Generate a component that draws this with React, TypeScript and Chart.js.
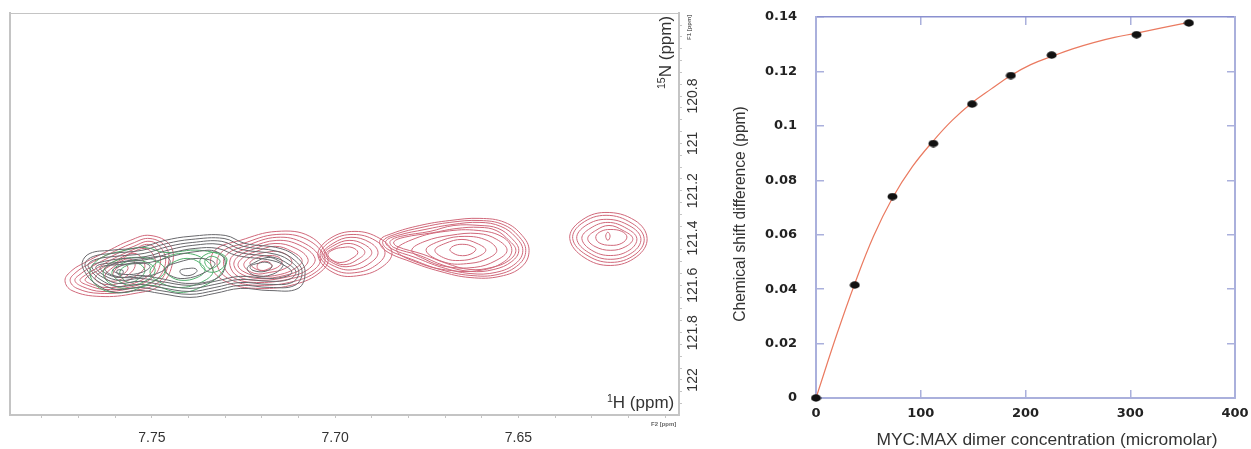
import React, { useEffect, useRef } from "react";
import { Chart, registerables } from "chart.js";

Chart.register(...registerables);

type Ring = number[][];

const RED = "#d0687a";
const GREEN = "#4fb06c";
const BLACK = "#68686c";
const AXIS_GREY = "#c4c4c4";
const AXIS_BLUE = "#aab0dc";
const TICK_TEXT = "#333333";

// 1H / 15N contour outlines, in ppm
const peakF: Ring[] = [
  [[7.6149,121.402],[7.6177,121.478],[7.6248,121.516],[7.6321,121.482],[7.636,121.402],[7.6332,121.33],[7.6264,121.292],[7.6182,121.326]],
  [[7.6157,121.402],[7.6182,121.47],[7.6248,121.503],[7.6316,121.47],[7.6352,121.402],[7.6327,121.338],[7.6261,121.304],[7.619,121.338]],
  [[7.6166,121.402],[7.6188,121.46],[7.6248,121.49],[7.6308,121.462],[7.6341,121.402],[7.6316,121.347],[7.6259,121.321],[7.6196,121.349]],
  [[7.6177,121.402],[7.6196,121.45],[7.6248,121.474],[7.63,121.452],[7.6327,121.402],[7.6305,121.36],[7.6256,121.334],[7.6204,121.36]],
  [[7.6188,121.402],[7.6207,121.436],[7.6248,121.452],[7.6291,121.436],[7.6311,121.402],[7.6289,121.368],[7.6253,121.347],[7.6215,121.368]],
  [[7.6204,121.396],[7.6218,121.422],[7.6248,121.431],[7.628,121.42],[7.6289,121.394],[7.6275,121.372],[7.625,121.364],[7.6218,121.372]],
  [[7.625,121.392],[7.6256,121.41],[7.6262,121.392],[7.6256,121.375]],
];

const peakE: Ring[] = [
  [[7.6471,121.452],[7.649,121.52],[7.655,121.562],[7.6632,121.567],[7.6714,121.541],[7.6796,121.499],[7.6864,121.452],[7.6878,121.41],[7.6845,121.381],[7.6769,121.347],[7.6687,121.326],[7.6605,121.317],[7.6537,121.334],[7.649,121.389]],
  [[7.648,121.452],[7.6499,121.512],[7.6556,121.554],[7.6632,121.558],[7.6714,121.533],[7.6791,121.49],[7.6856,121.448],[7.687,121.414],[7.6837,121.385],[7.6763,121.355],[7.6687,121.334],[7.6605,121.326],[7.6542,121.343],[7.6499,121.393]],
  [[7.6488,121.452],[7.6507,121.507],[7.6561,121.545],[7.6632,121.55],[7.6709,121.524],[7.6782,121.482],[7.6848,121.444],[7.6862,121.414],[7.6829,121.389],[7.6755,121.364],[7.6681,121.343],[7.6605,121.334],[7.6548,121.351],[7.6507,121.397]],
  [[7.6499,121.452],[7.6518,121.499],[7.6567,121.533],[7.6632,121.541],[7.6703,121.516],[7.6769,121.474],[7.684,121.44],[7.685,121.414],[7.6821,121.393],[7.6741,121.372],[7.6676,121.347],[7.6605,121.347],[7.6556,121.359],[7.6518,121.402]],
  [[7.6507,121.452],[7.6526,121.495],[7.6572,121.524],[7.6632,121.533],[7.6697,121.507],[7.676,121.469],[7.6832,121.435],[7.684,121.416],[7.6812,121.397],[7.6735,121.378],[7.667,121.36],[7.6605,121.355],[7.6561,121.368],[7.6526,121.41]],
  [[7.6518,121.452],[7.6542,121.503],[7.6605,121.537],[7.6687,121.537],[7.6769,121.507],[7.6832,121.452],[7.6782,121.402],[7.67,121.372],[7.661,121.368],[7.6542,121.397]],
  [[7.6531,121.452],[7.6561,121.495],[7.6619,121.524],[7.67,121.52],[7.6755,121.49],[7.6791,121.452],[7.6755,121.414],[7.6687,121.389],[7.661,121.381],[7.6559,121.406]],
  [[7.6559,121.452],[7.6583,121.486],[7.6632,121.507],[7.67,121.503],[7.6752,121.452],[7.6709,121.41],[7.6646,121.393],[7.6586,121.41]],
  [[7.6589,121.452],[7.6616,121.482],[7.666,121.495],[7.67,121.486],[7.6728,121.452],[7.67,121.423],[7.6654,121.406],[7.6613,121.423]],
  [[7.6616,121.448],[7.6632,121.469],[7.666,121.474],[7.6681,121.461],[7.6687,121.448],[7.6673,121.431],[7.6646,121.427],[7.6627,121.435]],
];

const peakD: Ring[] = [
  [[7.6845,121.461],[7.687,121.52],[7.6932,121.558],[7.7,121.55],[7.7047,121.474],[7.7014,121.402],[7.6946,121.372],[7.6878,121.402]],
  [[7.6864,121.461],[7.6886,121.512],[7.6938,121.545],[7.6998,121.537],[7.7041,121.474],[7.7009,121.41],[7.6951,121.385],[7.6891,121.41]],
  [[7.6883,121.461],[7.6902,121.503],[7.6946,121.533],[7.6995,121.524],[7.7036,121.474],[7.7006,121.423],[7.6957,121.397],[7.6905,121.419]],
  [[7.69,121.461],[7.6919,121.495],[7.696,121.52],[7.6998,121.512],[7.703,121.469],[7.7003,121.431],[7.6962,121.41],[7.6921,121.427]],
  [[7.6919,121.461],[7.6938,121.49],[7.697,121.512],[7.7,121.503],[7.7025,121.469],[7.7,121.44],[7.6968,121.423],[7.6935,121.435]],
  [[7.6938,121.461],[7.6954,121.486],[7.6981,121.503],[7.7006,121.495],[7.702,121.469],[7.7003,121.448],[7.6979,121.44],[7.6954,121.44]],
];

const peakC: Ring[] = [
  [[7.702,121.486],[7.7041,121.545],[7.711,121.596],[7.7205,121.613],[7.7287,121.592],[7.7336,121.529],[7.7328,121.452],[7.7259,121.41],[7.7159,121.372],[7.7069,121.393]],
  [[7.7028,121.486],[7.705,121.541],[7.7112,121.583],[7.7205,121.6],[7.7281,121.579],[7.732,121.524],[7.7311,121.461],[7.7251,121.423],[7.7159,121.385],[7.7077,121.406]],
  [[7.7041,121.486],[7.706,121.537],[7.7118,121.571],[7.7205,121.588],[7.7273,121.571],[7.7303,121.52],[7.7295,121.469],[7.724,121.431],[7.7159,121.397],[7.7088,121.419]],
  [[7.7055,121.486],[7.7074,121.533],[7.7123,121.562],[7.7205,121.579],[7.7265,121.562],[7.7287,121.516],[7.7279,121.474],[7.7232,121.44],[7.7159,121.41],[7.7096,121.431]],
  [[7.7074,121.49],[7.709,121.529],[7.7137,121.558],[7.7205,121.571],[7.7254,121.554],[7.7276,121.516],[7.7265,121.478],[7.7224,121.448],[7.7164,121.423],[7.7107,121.444]],
  [[7.709,121.495],[7.711,121.529],[7.715,121.554],[7.7205,121.562],[7.7246,121.545],[7.7265,121.516],[7.7251,121.482],[7.7216,121.457],[7.7164,121.435],[7.7118,121.457]],
  [[7.7118,121.499],[7.7137,121.529],[7.7178,121.545],[7.7219,121.55],[7.7249,121.516],[7.7232,121.482],[7.7191,121.461],[7.7145,121.461]],
  [[7.7145,121.503],[7.7164,121.529],[7.72,121.537],[7.7224,121.524],[7.7232,121.503],[7.721,121.482],[7.7178,121.474],[7.7153,121.482]],
  [[7.7172,121.516],[7.7186,121.533],[7.7205,121.537],[7.7213,121.52],[7.7205,121.503],[7.7186,121.499]],
];

const peakA: Ring[] = [
  [[7.7737,121.579],[7.7718,121.622],[7.7641,121.647],[7.7546,121.634],[7.7478,121.6],[7.7445,121.516],[7.745,121.431],[7.7505,121.389],[7.7559,121.41],[7.7628,121.461],[7.7682,121.503],[7.7718,121.537]],
  [[7.7723,121.579],[7.7704,121.613],[7.7641,121.634],[7.7551,121.622],[7.7486,121.592],[7.7456,121.516],[7.7461,121.44],[7.7505,121.402],[7.7554,121.423],[7.7619,121.469],[7.7674,121.512],[7.7707,121.545]],
  [[7.771,121.579],[7.769,121.605],[7.7636,121.626],[7.7557,121.613],[7.7494,121.583],[7.7464,121.516],[7.7472,121.448],[7.7505,121.414],[7.7549,121.435],[7.7611,121.478],[7.7663,121.52],[7.7693,121.55]],
  [[7.7696,121.579],[7.7674,121.6],[7.763,121.617],[7.7565,121.609],[7.7505,121.575],[7.7478,121.516],[7.7483,121.457],[7.751,121.427],[7.7549,121.448],[7.7603,121.486],[7.7652,121.529],[7.7679,121.554]],
  [[7.7682,121.575],[7.7663,121.596],[7.7625,121.609],[7.757,121.6],[7.7516,121.567],[7.7491,121.516],[7.7497,121.469],[7.7519,121.444],[7.7554,121.461],[7.7603,121.499],[7.7647,121.537]],
  [[7.7519,121.516],[7.7538,121.554],[7.7581,121.588],[7.7628,121.596],[7.7655,121.571],[7.7633,121.537],[7.7592,121.499],[7.7546,121.465]],
  [[7.7546,121.52],[7.756,121.55],[7.7592,121.579],[7.7619,121.579],[7.7628,121.558],[7.7606,121.524],[7.7573,121.49],[7.7551,121.495]],
  [[7.7565,121.529],[7.7579,121.554],[7.7598,121.567],[7.7606,121.55],[7.7592,121.524],[7.7573,121.512]],
];

const blackOuter: Ring[] = [
  [[7.769,121.503],[7.7669,121.465],[7.7614,121.452],[7.7532,121.44],[7.7464,121.41],[7.7396,121.393],[7.73,121.389],[7.7246,121.423],[7.715,121.444],[7.7101,121.486],[7.7082,121.545],[7.7101,121.613],[7.7178,121.622],[7.7259,121.613],[7.7328,121.634],[7.7396,121.651],[7.7478,121.634],[7.7532,121.622],[7.76,121.63],[7.7655,121.592],[7.7682,121.545]],
  [[7.7682,121.507],[7.766,121.478],[7.7609,121.465],[7.7527,121.452],[7.7459,121.423],[7.7393,121.406],[7.7303,121.402],[7.7251,121.435],[7.7156,121.457],[7.711,121.495],[7.709,121.545],[7.711,121.6],[7.7178,121.609],[7.7259,121.6],[7.7328,121.622],[7.7396,121.638],[7.7478,121.622],[7.7532,121.609],[7.7598,121.617],[7.7647,121.583],[7.7674,121.541]],
  [[7.7674,121.512],[7.7652,121.49],[7.7603,121.478],[7.7521,121.465],[7.7453,121.435],[7.739,121.419],[7.7309,121.414],[7.7257,121.448],[7.7161,121.469],[7.7118,121.503],[7.7099,121.545],[7.7118,121.588],[7.7178,121.596],[7.7259,121.588],[7.7328,121.609],[7.7396,121.626],[7.7478,121.609],[7.7532,121.596],[7.7595,121.605],[7.7641,121.575],[7.7666,121.537]],
  [[7.7663,121.516],[7.7641,121.503],[7.7598,121.49],[7.7516,121.478],[7.7448,121.448],[7.7388,121.431],[7.7314,121.427],[7.7262,121.461],[7.7167,121.482],[7.7126,121.512],[7.7107,121.545],[7.7126,121.575],[7.7178,121.583],[7.7259,121.575],[7.7328,121.596],[7.7396,121.613],[7.7478,121.596],[7.7532,121.583],[7.7592,121.592],[7.7633,121.567],[7.7658,121.537]],
  [[7.7652,121.52],[7.7592,121.503],[7.751,121.49],[7.7442,121.461],[7.7382,121.444],[7.732,121.444],[7.7268,121.474],[7.7172,121.495],[7.7134,121.52],[7.7118,121.545],[7.7134,121.562],[7.7178,121.571],[7.7259,121.562],[7.7328,121.583],[7.7396,121.6],[7.7478,121.583],[7.7532,121.571],[7.7587,121.579],[7.763,121.558]],
  [[7.7641,121.524],[7.7587,121.512],[7.7505,121.503],[7.7437,121.474],[7.7377,121.457],[7.7325,121.457],[7.73,121.503],[7.7319,121.567],[7.7396,121.592],[7.7478,121.571],[7.7532,121.558],[7.7587,121.567],[7.7625,121.55]],
];

const blackInner: Ring[] = [
  [[7.745,121.503],[7.7478,121.545],[7.7546,121.567],[7.7606,121.558],[7.7628,121.529],[7.7587,121.503],[7.7519,121.486],[7.7464,121.478]],
  [[7.7505,121.52],[7.7527,121.545],[7.7573,121.554],[7.7606,121.537],[7.7581,121.516],[7.7532,121.503]],
  [[7.7579,121.537],[7.7581,121.554],[7.7592,121.554],[7.7595,121.537]],
  [[7.7328,121.507],[7.7355,121.545],[7.741,121.571],[7.745,121.558],[7.7464,121.529],[7.7429,121.503],[7.7369,121.486]],
  [[7.7377,121.541],[7.7396,121.558],[7.7418,121.554],[7.7423,121.537],[7.7401,121.529],[7.7382,121.529]],
  [[7.7142,121.516],[7.7172,121.554],[7.7219,121.558],[7.724,121.529],[7.7219,121.503],[7.7183,121.482],[7.7156,121.495]],
  [[7.7172,121.52],[7.7191,121.541],[7.7224,121.537],[7.7232,121.52],[7.721,121.507],[7.7186,121.503]],
];

const greenRings: Ring[] = [
  [[7.7669,121.545],[7.7641,121.486],[7.7573,121.452],[7.7519,121.44],[7.7464,121.461],[7.7369,121.452],[7.73,121.486],[7.7309,121.545],[7.7355,121.6],[7.7423,121.63],[7.7505,121.6],[7.7573,121.63],[7.7641,121.613]],
  [[7.7464,121.537],[7.7491,121.579],[7.7559,121.613],[7.7614,121.592],[7.7633,121.545],[7.7609,121.503],[7.7546,121.482],[7.7491,121.495]],
  [[7.7491,121.537],[7.751,121.575],[7.7559,121.6],[7.7592,121.579],[7.7609,121.545],[7.7587,121.512],[7.7546,121.495],[7.7508,121.507]],
  [[7.7519,121.537],[7.7532,121.567],[7.7559,121.588],[7.7581,121.571],[7.7587,121.541],[7.7568,121.516],[7.7538,121.507]],
  [[7.7333,121.537],[7.7355,121.579],[7.7418,121.609],[7.7472,121.592],[7.7505,121.545],[7.7478,121.495],[7.7418,121.465],[7.736,121.486]],
  [[7.7355,121.537],[7.7377,121.567],[7.7418,121.579],[7.745,121.562],[7.7464,121.533],[7.7442,121.503],[7.7404,121.486],[7.7371,121.503]],
  [[7.7295,121.495],[7.7309,121.529],[7.7336,121.545],[7.736,121.529],[7.7369,121.495],[7.7352,121.469],[7.7325,121.461],[7.7303,121.474]],
  [[7.7314,121.499],[7.7325,121.52],[7.7341,121.529],[7.7352,121.516],[7.7355,121.495],[7.7341,121.478],[7.7325,121.482]],
];

// spectrum axes
const hTicks = [7.78, 7.77, 7.76, 7.75, 7.74, 7.73, 7.72, 7.71, 7.7, 7.69, 7.68, 7.67, 7.66, 7.65, 7.64, 7.63, 7.62, 7.61];
const hLabels = [7.75, 7.7, 7.65];
const nTicks = [120.5, 120.55, 120.6, 120.65, 120.7, 120.75, 120.8, 120.85, 120.9, 120.95, 121, 121.05, 121.1, 121.15, 121.2, 121.25, 121.3, 121.35, 121.4, 121.45, 121.5, 121.55, 121.6, 121.65, 121.7, 121.75, 121.8, 121.85, 121.9, 121.95, 122, 122.05, 122.1];
const nLabels = [120.8, 121, 121.2, 121.4, 121.6, 121.8, 122];

// titration
const concentration = [0, 37, 73, 112, 149, 186, 225, 306, 356];
const shiftDifference = [0, 0.0415, 0.074, 0.0935, 0.108, 0.1185, 0.126, 0.1335, 0.1378];
const fitConcentration = [0, 20, 37, 55, 73, 92, 112, 130, 149, 167, 186, 205, 225, 245, 265, 285, 305, 330, 356];
const fitShift = [0, 0.0235, 0.042, 0.0595, 0.0735, 0.085, 0.0945, 0.102, 0.1085, 0.1135, 0.1185, 0.1225, 0.1255, 0.1283, 0.1306, 0.1325, 0.134, 0.136, 0.138];

const near = (list: number[], v: number) => list.some((t) => Math.abs(t - v) < 1e-6);

const ringSets = (rings: Ring[], color: string) =>
  rings.map((ring) => ({
    type: "scatter" as const,
    data: ring.map(([x, y]) => ({ x, y })),
    showLine: true,
    tension: 0.4,
    borderColor: color,
    borderWidth: 1,
    pointRadius: 0,
    clip: false,
  }));

const sizeTo = (prop: "width" | "height", value: number) => (scale: any) => {
  scale[prop] = value;
  scale.paddingLeft = 0;
  scale.paddingRight = 0;
  scale.paddingTop = 0;
  scale.paddingBottom = 0;
};

// each contour is a closed curve: tell the line elements to join up
const closeRings = {
  id: "closeRings",
  afterDatasetsUpdate(chart: any) {
    chart.data.datasets.forEach((_: any, i: number) => {
      const line = chart.getDatasetMeta(i).dataset;
      if (line) {
        line._loop = true;
        line._fullLoop = true;
      }
    });
  },
};

function overlay(id: string, draw: (ctx: CanvasRenderingContext2D) => void) {
  return {
    id,
    afterDraw(chart: any) {
      const ctx = chart.ctx;
      ctx.save();
      draw(ctx);
      ctx.restore();
    },
  };
}

const FONT = '"Liberation Sans", Arial, sans-serif';

function drawSupLabel(ctx: CanvasRenderingContext2D, sup: string, rest: string, size: number) {
  ctx.font = `${size * 0.62}px ${FONT}`;
  ctx.textAlign = "left";
  ctx.fillText(sup, 0, -size * 0.36);
  const w = ctx.measureText(sup).width;
  ctx.font = `${size}px ${FONT}`;
  ctx.fillText(rest, w, 0);
}

export default function App() {
  const leftRef = useRef<HTMLCanvasElement>(null);
  const rightRef = useRef<HTMLCanvasElement>(null);

  useEffect(() => {
    const spectrum = new Chart(leftRef.current!, {
      type: "scatter",
      data: {
        datasets: [
          ...ringSets(blackInner, BLACK),
          ...ringSets(blackOuter, BLACK),
          ...ringSets(greenRings, GREEN),
          ...ringSets(peakA, RED),
          ...ringSets(peakC, RED),
          ...ringSets(peakD, RED),
          ...ringSets(peakE, RED),
          ...ringSets(peakF, RED),
        ],
      },
      options: {
        animation: false,
        responsive: false,
        layout: { padding: { left: 10, top: 13, right: 0, bottom: 0 } },
        plugins: { legend: { display: false }, tooltip: { enabled: false } },
        scales: {
          x: {
            type: "linear",
            position: "bottom",
            reverse: true,
            min: 7.6062,
            max: 7.7887,
            afterFit: sizeTo("height", 34),
            afterBuildTicks: (s: any) => {
              s.ticks = hTicks.map((value) => ({ value }));
            },
            border: { color: AXIS_GREY, width: 2 },
            grid: { drawOnChartArea: false, tickLength: 3, color: AXIS_GREY },
            ticks: {
              autoSkip: false,
              maxRotation: 0,
              padding: 12,
              color: TICK_TEXT,
              font: { family: FONT, size: 14 },
              callback: (v: any) => (near(hLabels, v) ? Number(v).toFixed(2) : ""),
            },
          },
          xTop: {
            type: "linear",
            position: "top",
            min: 0,
            max: 1,
            afterFit: sizeTo("height", 0),
            border: { color: AXIS_GREY, width: 1 },
            grid: { display: false },
            ticks: { display: false },
          },
          y: {
            type: "linear",
            position: "right",
            reverse: true,
            min: 120.449,
            max: 122.148,
            afterFit: sizeTo("width", 26),
            afterBuildTicks: (s: any) => {
              s.ticks = nTicks.map((value) => ({ value }));
            },
            border: { color: AXIS_GREY, width: 2 },
            grid: { drawOnChartArea: false, tickLength: 3, color: AXIS_GREY },
            ticks: {
              autoSkip: false,
              minRotation: 90,
              maxRotation: 90,
              crossAlign: "center",
              padding: -6,
              color: TICK_TEXT,
              font: { family: FONT, size: 14 },
              callback: (v: any) => (near(nLabels, v) ? String(Number(Number(v).toFixed(1))) : ""),
            },
          },
          yLeft: {
            type: "linear",
            position: "left",
            min: 0,
            max: 1,
            afterFit: sizeTo("width", 0),
            border: { color: AXIS_GREY, width: 2 },
            grid: { display: false },
            ticks: { display: false },
          },
        },
      } as any,
      plugins: [
        closeRings,
        overlay("spectrumText", (ctx) => {
          ctx.fillStyle = "#333333";
          ctx.textBaseline = "alphabetic";
          ctx.save();
          ctx.translate(607, 408);
          drawSupLabel(ctx, "1", "H (ppm)", 17);
          ctx.restore();
          ctx.save();
          ctx.translate(671, 89);
          ctx.rotate(-Math.PI / 2);
          drawSupLabel(ctx, "15", "N (ppm)", 17);
          ctx.restore();
          ctx.fillStyle = "#666666";
          ctx.font = `bold 6px ${FONT}`;
          ctx.textAlign = "left";
          ctx.fillText("F2 [ppm]", 651, 426);
          ctx.save();
          ctx.translate(691, 40);
          ctx.rotate(-Math.PI / 2);
          ctx.fillText("F1 [ppm]", 0, 0);
          ctx.restore();
        }),
      ],
    });

    const marker = document.createElement("canvas");
    marker.width = 11;
    marker.height = 8;
    const mctx = marker.getContext("2d")!;
    mctx.fillStyle = "#111111";
    mctx.beginPath();
    mctx.ellipse(5.5, 4, 5, 3.7, 0, 0, Math.PI * 2);
    mctx.fill();

    const titration = new Chart(rightRef.current!, {
      type: "scatter",
      data: {
        datasets: [
          {
            data: concentration.map((x, i) => ({ x, y: shiftDifference[i] })),
            pointStyle: marker,
            pointRadius: 5,
            showLine: false,
            clip: false,
            order: 0,
          },
          {
            data: fitConcentration.map((x, i) => ({ x, y: fitShift[i] })),
            showLine: true,
            tension: 0.4,
            borderColor: "#ea7a60",
            borderWidth: 1.2,
            pointRadius: 0,
            clip: false,
            order: 1,
          },
        ],
      },
      options: {
        animation: false,
        responsive: false,
        layout: { padding: 0 },
        plugins: { legend: { display: false }, tooltip: { enabled: false } },
        scales: {
          x: {
            type: "linear",
            position: "bottom",
            min: 0,
            max: 400,
            afterFit: sizeTo("height", 51),
            border: { color: AXIS_BLUE, width: 2 },
            grid: { drawOnChartArea: false, tickLength: -8, color: AXIS_BLUE, lineWidth: 1.5 },
            ticks: {
              stepSize: 100,
              maxRotation: 0,
              padding: 16,
              color: "#222222",
              font: { family: '"DejaVu Sans"', size: 13, weight: "bold" },
            },
          },
          xTop: {
            type: "linear",
            position: "top",
            min: 0,
            max: 400,
            afterFit: sizeTo("height", 17),
            border: { color: "#8a90cf", width: 1.5, dash: [3, 1] },
            grid: { drawOnChartArea: false, tickLength: -8, color: AXIS_BLUE, lineWidth: 1.5 },
            ticks: { display: false, stepSize: 100 },
          },
          y: {
            type: "linear",
            position: "left",
            min: 0,
            max: 0.14,
            afterFit: sizeTo("width", 111),
            border: { color: AXIS_BLUE, width: 2 },
            grid: { drawOnChartArea: false, tickLength: -8, color: AXIS_BLUE, lineWidth: 1.5 },
            ticks: {
              stepSize: 0.02,
              padding: 27,
              color: "#222222",
              font: { family: '"DejaVu Sans"', size: 13, weight: "bold" },
              callback: (v: any) => String(Number(Number(v).toFixed(2))),
            },
          },
          yRight: {
            type: "linear",
            position: "right",
            min: 0,
            max: 0.14,
            afterFit: sizeTo("width", 16),
            border: { color: AXIS_BLUE, width: 2 },
            grid: { drawOnChartArea: false, tickLength: -8, color: AXIS_BLUE, lineWidth: 1.5 },
            ticks: { display: false, stepSize: 0.02 },
          },
        },
      } as any,
      plugins: [
        overlay("titrationText", (ctx) => {
          ctx.fillStyle = "#333333";
          ctx.textAlign = "center";
          ctx.textBaseline = "middle";
          ctx.font = `17.4px ${FONT}`;
          ctx.fillText("MYC:MAX dimer concentration (micromolar)", 342, 440);
          ctx.save();
          ctx.font = `15.6px ${FONT}`;
          ctx.translate(36, 214);
          ctx.rotate(-Math.PI / 2);
          ctx.fillText("Chemical shift difference (ppm)", 0, 0);
          ctx.restore();
        }),
      ],
    });

    return () => {
      spectrum.destroy();
      titration.destroy();
    };
  }, []);

  return (
    <div style={{ position: "absolute", left: 0, top: 0, width: 1251, height: 449, background: "#fff", overflow: "hidden" }}>
      <canvas ref={leftRef} width={705} height={449} style={{ position: "absolute", left: 0, top: 0, width: 705, height: 449 }} />
      <canvas ref={rightRef} width={546} height={449} style={{ position: "absolute", left: 705, top: 0, width: 546, height: 449 }} />
    </div>
  );
}
